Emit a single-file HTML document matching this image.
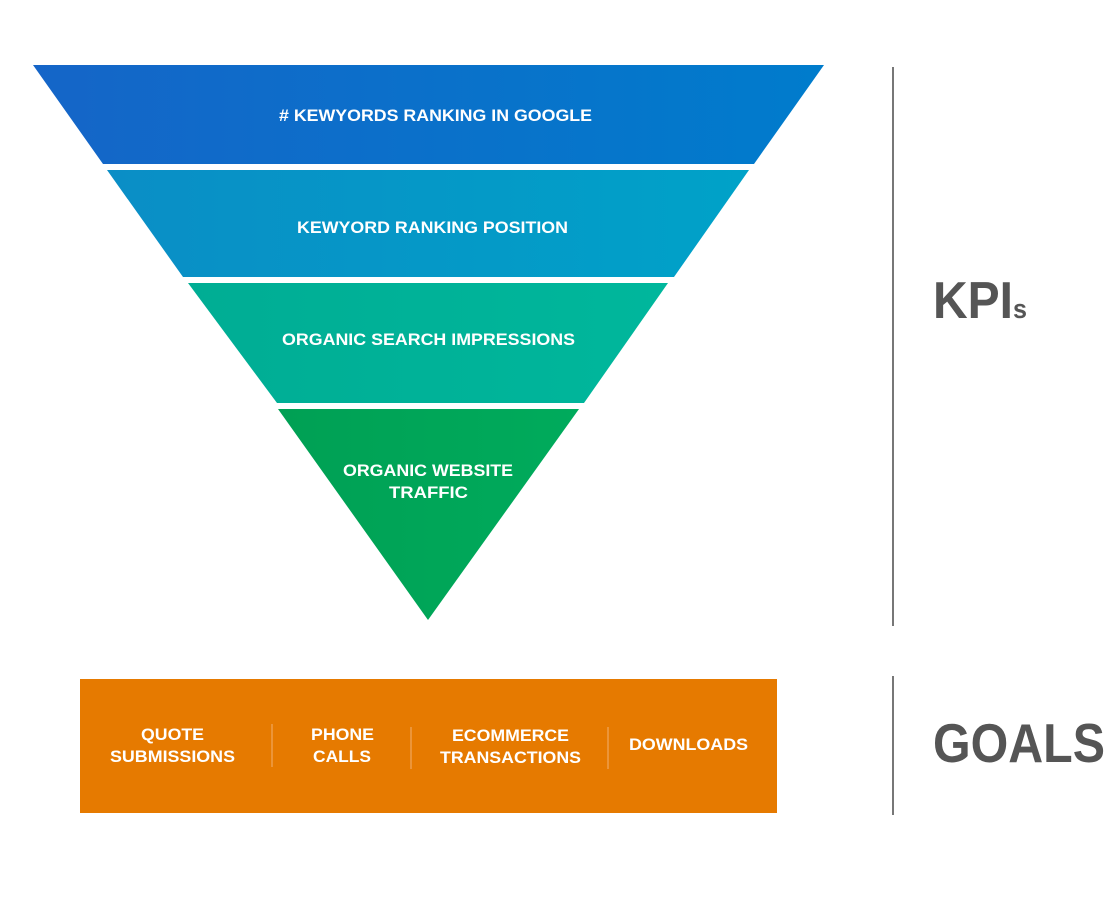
<!DOCTYPE html>
<html><head><style>
body{margin:0;background:#fff;width:1110px;height:918px;overflow:hidden}
svg text{font-family:"Liberation Sans",Arial,sans-serif;font-weight:bold}
</style></head><body>
<svg width="1110" height="918" viewBox="0 0 1110 918">
<defs>
<linearGradient id="g1" x1="0" x2="1"><stop offset="0" stop-color="#1565c8"/><stop offset="1" stop-color="#007ccc"/></linearGradient>
<linearGradient id="g2" x1="0" x2="1"><stop offset="0" stop-color="#0a8ec6"/><stop offset="1" stop-color="#00a2c8"/></linearGradient>
<linearGradient id="g3" x1="0" x2="1"><stop offset="0" stop-color="#00ad94"/><stop offset="1" stop-color="#00b79c"/></linearGradient>
<linearGradient id="g4" x1="0" x2="1"><stop offset="0" stop-color="#00a054"/><stop offset="1" stop-color="#00ab5c"/></linearGradient>
</defs>
<polygon points="33,65 824,65 754,164 103,164" fill="url(#g1)"/>
<polygon points="107,170 749,170 674,277 183,277" fill="url(#g2)"/>
<polygon points="188,283 668,283 584,403 277,403" fill="url(#g3)"/>
<polygon points="278,409 579,409 428,620" fill="url(#g4)"/>
<g fill="#fff" font-size="17" lengthAdjust="spacingAndGlyphs">
<text x="279" y="121" textLength="313" lengthAdjust="spacingAndGlyphs"># KEWYORDS RANKING IN GOOGLE</text>
<text x="297" y="233" textLength="271" lengthAdjust="spacingAndGlyphs">KEWYORD RANKING POSITION</text>
<text x="282" y="345" textLength="293" lengthAdjust="spacingAndGlyphs">ORGANIC SEARCH IMPRESSIONS</text>
<text x="343" y="476" textLength="170" lengthAdjust="spacingAndGlyphs">ORGANIC WEBSITE</text>
<text x="389" y="498" textLength="79" lengthAdjust="spacingAndGlyphs">TRAFFIC</text>
</g>
<rect x="80" y="679" width="697" height="134" fill="#e67a00"/>
<g stroke="#f2b070" stroke-width="1">
<line x1="272" y1="724" x2="272" y2="767"/>
<line x1="411" y1="727" x2="411" y2="769"/>
<line x1="608" y1="727" x2="608" y2="769"/>
</g>
<g fill="#fff" font-size="17">
<text x="141" y="740" textLength="63" lengthAdjust="spacingAndGlyphs">QUOTE</text>
<text x="110" y="762" textLength="125" lengthAdjust="spacingAndGlyphs">SUBMISSIONS</text>
<text x="311" y="740" textLength="63" lengthAdjust="spacingAndGlyphs">PHONE</text>
<text x="313" y="762" textLength="58" lengthAdjust="spacingAndGlyphs">CALLS</text>
<text x="452" y="741" textLength="117" lengthAdjust="spacingAndGlyphs">ECOMMERCE</text>
<text x="440" y="763" textLength="141" lengthAdjust="spacingAndGlyphs">TRANSACTIONS</text>
<text x="629" y="750" textLength="119" lengthAdjust="spacingAndGlyphs">DOWNLOADS</text>
</g>
<line x1="893" y1="67" x2="893" y2="626" stroke="#777" stroke-width="2"/>
<line x1="893" y1="676" x2="893" y2="815" stroke="#777" stroke-width="2"/>
<text x="933" y="318" fill="#555" font-size="52" textLength="80" lengthAdjust="spacingAndGlyphs">KPI</text>
<text x="1013" y="318" fill="#555" font-size="27" textLength="14" lengthAdjust="spacingAndGlyphs">s</text>
<text x="933" y="762" fill="#555" font-size="55" textLength="172" lengthAdjust="spacingAndGlyphs">GOALS</text>
</svg>
</body></html>
